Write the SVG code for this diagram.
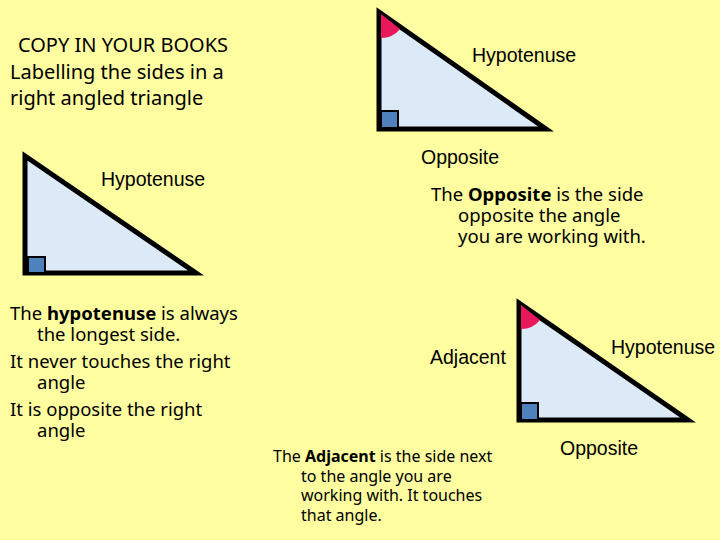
<svg xmlns="http://www.w3.org/2000/svg" width="720" height="540" viewBox="0 0 720 540">
<style>
.tri{fill:#dce9f7;stroke:#000;stroke-width:5;stroke-linejoin:miter}
.sq{fill:#4f81bd;stroke:#000;stroke-width:2}
.arc{fill:#e8185a}
.lab{font-family:"Liberation Sans",Arial,sans-serif;font-size:19.5px;fill:#000}
.body{font-family:"Noto Sans","Open Sans",sans-serif;fill:#000}
</style>
<rect width="720" height="540" fill="#fefea0"/>
<g id="title"><text class="body" font-size="20"><tspan x="18" y="52">COPY IN YOUR BOOKS</tspan><tspan x="10" y="79">Labelling the sides in a</tspan><tspan x="10" y="105">right angled triangle</tspan></text></g>
<g id="triangle1">
<polygon class="tri" points="379,12 379,129 546,129"/>
<path class="arc" d="M381,14 L381,38 A24,24 0 0 0 400,29 Z"/>
<rect class="sq" x="381" y="111" width="17" height="17"/>
<text class="lab" x="472" y="62">Hypotenuse</text>
<text class="lab" x="421" y="164">Opposite</text>
</g>
<g id="triangle2">
<polygon class="tri" points="25,156 25,273 196,273"/>
<rect class="sq" x="28" y="257" width="17" height="16"/>
<text class="lab" x="101" y="186">Hypotenuse</text>
</g>
<g id="triangle3">
<polygon class="tri" points="519,303 519,420 688,420"/>
<path class="arc" d="M521,305 L521,329 A24,24 0 0 0 540,320 Z"/>
<rect class="sq" x="521" y="403" width="17" height="17"/>
<text class="lab" x="611" y="354">Hypotenuse</text>
<text class="lab" x="430" y="364">Adjacent</text>
<text class="lab" x="560" y="455">Opposite</text>
</g>
<g id="opp-text"><text class="body" font-size="18.5"><tspan x="431" y="201">The <tspan font-weight="bold">Opposite</tspan> is the side</tspan><tspan x="458" y="222">opposite the angle</tspan><tspan x="458" y="243">you are working with.</tspan></text></g>
<g id="hyp-text"><text class="body" font-size="18.5"><tspan x="10" y="320">The <tspan font-weight="bold">hypotenuse</tspan> is always</tspan><tspan x="37" y="341">the longest side.</tspan><tspan x="10" y="368">It never touches the right</tspan><tspan x="37" y="389">angle</tspan><tspan x="10" y="416">It is opposite the right</tspan><tspan x="37" y="437">angle</tspan></text></g>
<g id="adj-text"><text class="body" font-size="16"><tspan x="273" y="462">The <tspan font-weight="bold">Adjacent</tspan> is the side next</tspan><tspan x="301" y="482">to the angle you are</tspan><tspan x="301" y="501">working with. It touches</tspan><tspan x="301" y="521">that angle.</tspan></text></g>
<g id="connectors"/>
</svg>
